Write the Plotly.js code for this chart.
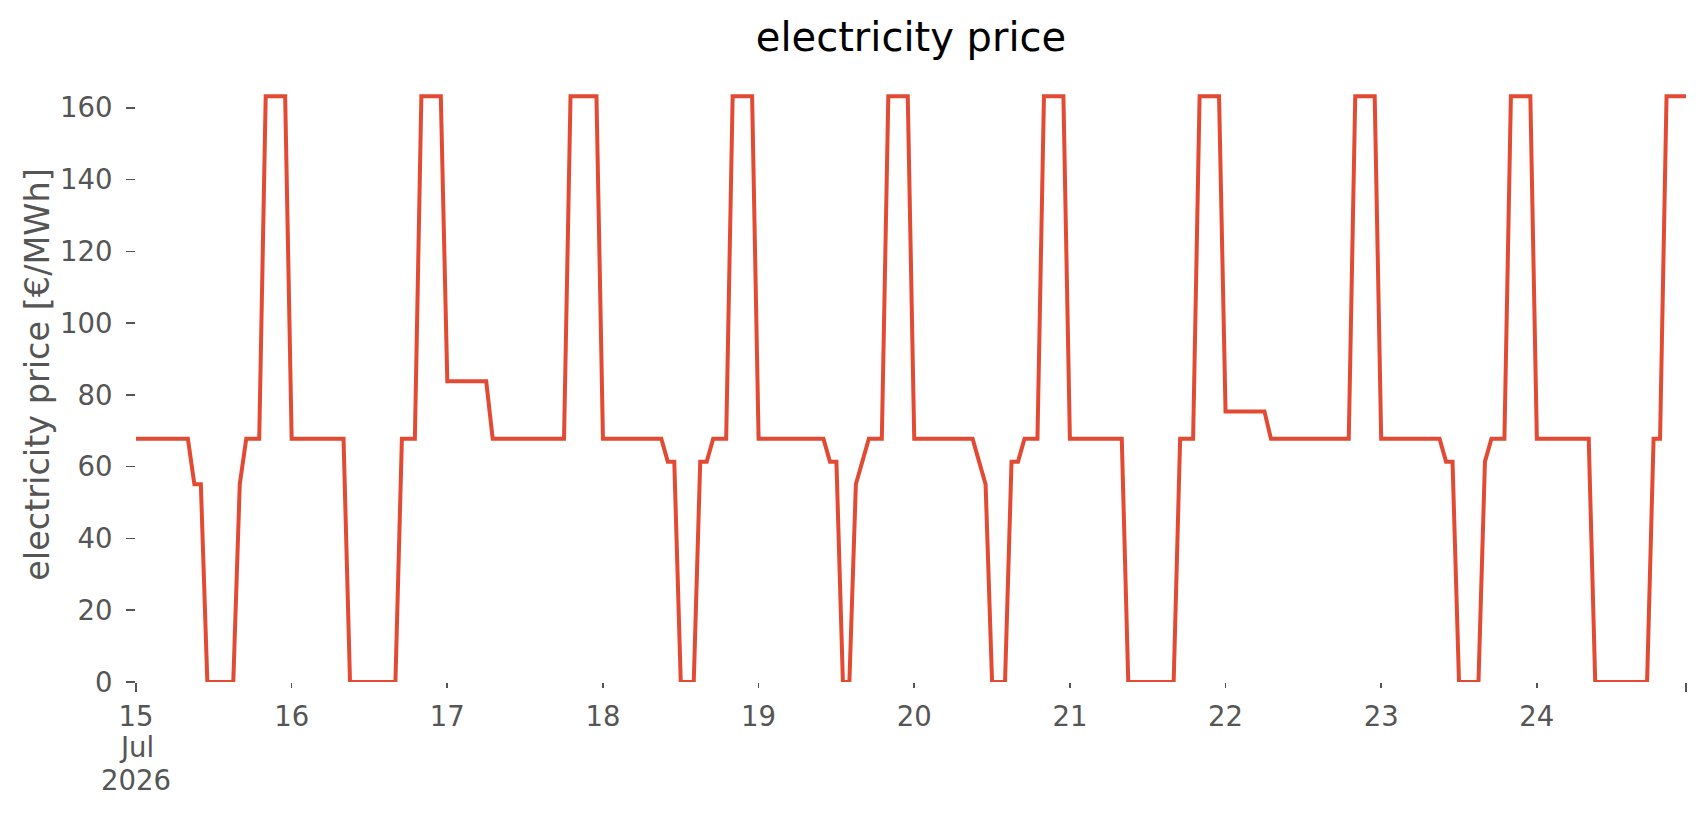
<!DOCTYPE html>
<html>
<head>
<meta charset="utf-8">
<script src="https://cdn.plot.ly/plotly-3.0.1.min.js"></script>
<style>
  html, body { margin: 0; padding: 0; background: #fff; }
  #chart { width: 1706px; height: 815px; }
</style>
</head>
<body>
<div id="chart"></div>
<script>
// hourly prices per day, 15..24 Jul 2026
const DAYS = ['2026-07-15', '2026-07-16', '2026-07-17', '2026-07-18', '2026-07-19',
  '2026-07-20', '2026-07-21', '2026-07-22', '2026-07-23', '2026-07-24'];

const day15 = [67.8, 67.8, 67.8, 67.8, 67.8, 67.8, 67.8, 67.8, 67.8, 55.1, 55.1, 0,
  0, 0, 0, 0, 55.1, 67.8, 67.8, 67.8, 163.2, 163.2, 163.2, 163.2];
const day16 = [67.8, 67.8, 67.8, 67.8, 67.8, 67.8, 67.8, 67.8, 67.8, 0, 0, 0,
  0, 0, 0, 0, 0, 67.8, 67.8, 67.8, 163.2, 163.2, 163.2, 163.2];
const day17 = [83.8, 83.8, 83.8, 83.8, 83.8, 83.8, 83.8, 67.8, 67.8, 67.8, 67.8, 67.8,
  67.8, 67.8, 67.8, 67.8, 67.8, 67.8, 67.8, 163.2, 163.2, 163.2, 163.2, 163.2];
const day18 = [67.8, 67.8, 67.8, 67.8, 67.8, 67.8, 67.8, 67.8, 67.8, 67.8, 61.4, 61.4,
  0, 0, 0, 61.4, 61.4, 67.8, 67.8, 67.8, 163.2, 163.2, 163.2, 163.2];
const day19 = [67.8, 67.8, 67.8, 67.8, 67.8, 67.8, 67.8, 67.8, 67.8, 67.8, 67.8, 61.4,
  61.4, 0, 0, 55.1, 61.4, 67.8, 67.8, 67.8, 163.2, 163.2, 163.2, 163.2];
const day20 = [67.8, 67.8, 67.8, 67.8, 67.8, 67.8, 67.8, 67.8, 67.8, 67.8, 61.4, 55.1,
  0, 0, 0, 61.4, 61.4, 67.8, 67.8, 67.8, 163.2, 163.2, 163.2, 163.2];
const day21 = [67.8, 67.8, 67.8, 67.8, 67.8, 67.8, 67.8, 67.8, 67.8, 0, 0, 0,
  0, 0, 0, 0, 0, 67.8, 67.8, 67.8, 163.2, 163.2, 163.2, 163.2];
const day22 = [75.4, 75.4, 75.4, 75.4, 75.4, 75.4, 75.4, 67.8, 67.8, 67.8, 67.8, 67.8,
  67.8, 67.8, 67.8, 67.8, 67.8, 67.8, 67.8, 67.8, 163.2, 163.2, 163.2, 163.2];
const day23 = [67.8, 67.8, 67.8, 67.8, 67.8, 67.8, 67.8, 67.8, 67.8, 67.8, 61.4, 61.4,
  0, 0, 0, 0, 61.4, 67.8, 67.8, 67.8, 163.2, 163.2, 163.2, 163.2];
const day24 = [67.8, 67.8, 67.8, 67.8, 67.8, 67.8, 67.8, 67.8, 67.8, 0, 0, 0,
  0, 0, 0, 0, 0, 0, 67.8, 67.8, 163.2, 163.2, 163.2, 163.2];

const DAY_LABELS = ['15', '16', '17', '18', '19', '20', '21', '22', '23', '24'];
const MONTH_LABEL = 'Jul';
const YEAR_LABEL = '2026';
const Y_TICKS = [0, 20, 40, 60, 80, 100, 120, 140, 160];

const dayValues = [day15, day16, day17, day18, day19, day20, day21, day22, day23, day24];

const xs = [];
const ys = [];
dayValues.forEach((vals, d) => {
  vals.forEach((v, h) => {
    xs.push(`${DAYS[d]} ${String(h).padStart(2, '0')}:00`);
    ys.push(v);
  });
});

const FIRST = xs[0];
const LAST = xs[xs.length - 1];
const FONT = 'DejaVu Sans, Liberation Sans, sans-serif';
const GREY = '#555555';
const TICK_SIZE = 27.5;

const trace = {
  type: 'scatter',
  mode: 'lines',
  x: xs,
  y: ys,
  line: { color: '#E24A33', width: 4 },
  hoverinfo: 'x+y',
  showlegend: false,
};

// second (invisible) axis only to draw the longer major ticks at both ends
const dummy = {
  type: 'scatter',
  mode: 'lines',
  x: [FIRST, LAST],
  y: [null, null],
  xaxis: 'x2',
  showlegend: false,
  hoverinfo: 'skip',
};

// month / year under the first day label, tighter line spacing than <br>
const dateNote = (text, shift) => ({
  text: text,
  xref: 'x',
  x: FIRST,
  yref: 'paper',
  y: 0,
  xanchor: 'center',
  yanchor: 'middle',
  yshift: shift,
  showarrow: false,
  font: { family: FONT, size: TICK_SIZE, color: GREY },
});

const layout = {
  width: 1706,
  height: 815,
  margin: { l: 136, r: 20, t: 67, b: 133 },
  paper_bgcolor: '#ffffff',
  plot_bgcolor: '#ffffff',
  font: { family: FONT, color: GREY, size: TICK_SIZE },
  title: {
    text: 'electricity price',
    font: { family: FONT, size: 40, color: '#000000' },
    x: 0.5,
    xref: 'paper',
    xanchor: 'center',
    y: 0.954,
    yref: 'container',
    yanchor: 'middle',
  },
  xaxis: {
    type: 'date',
    range: [FIRST, LAST],
    tickmode: 'array',
    tickvals: DAYS.map((d) => `${d} 00:00`),
    ticktext: DAY_LABELS,
    ticks: 'outside',
    ticklen: 5,
    tickwidth: 1.6,
    tickcolor: GREY,
    ticklabelstandoff: 5,
    tickfont: { family: FONT, size: TICK_SIZE, color: GREY },
    showgrid: false,
    zeroline: false,
    showline: false,
    fixedrange: true,
  },
  xaxis2: {
    type: 'date',
    overlaying: 'x',
    matches: 'x',
    range: [FIRST, LAST],
    tickmode: 'array',
    tickvals: [FIRST, LAST],
    ticktext: ['', ''],
    ticks: 'outside',
    ticklen: 9,
    tickwidth: 1.6,
    tickcolor: GREY,
    showticklabels: false,
    showgrid: false,
    zeroline: false,
    showline: false,
    side: 'bottom',
  },
  yaxis: {
    range: [0, 171.36],
    tickmode: 'array',
    tickvals: Y_TICKS,
    ticks: 'outside',
    ticklen: 9,
    tickwidth: 1.6,
    tickcolor: GREY,
    ticklabelstandoff: 8,
    tickfont: { family: FONT, size: TICK_SIZE, color: GREY },
    showgrid: false,
    zeroline: false,
    showline: false,
    fixedrange: true,
    title: {
      text: 'electricity price [€/MWh]',
      font: { family: FONT, size: 33.5, color: GREY },
      standoff: 0,
    },
  },
  annotations: [dateNote(MONTH_LABEL, -65), dateNote(YEAR_LABEL, -98)],
};

Plotly.newPlot('chart', [trace, dummy], layout, { displayModeBar: false, staticPlot: true });
</script>
</body>
</html>
